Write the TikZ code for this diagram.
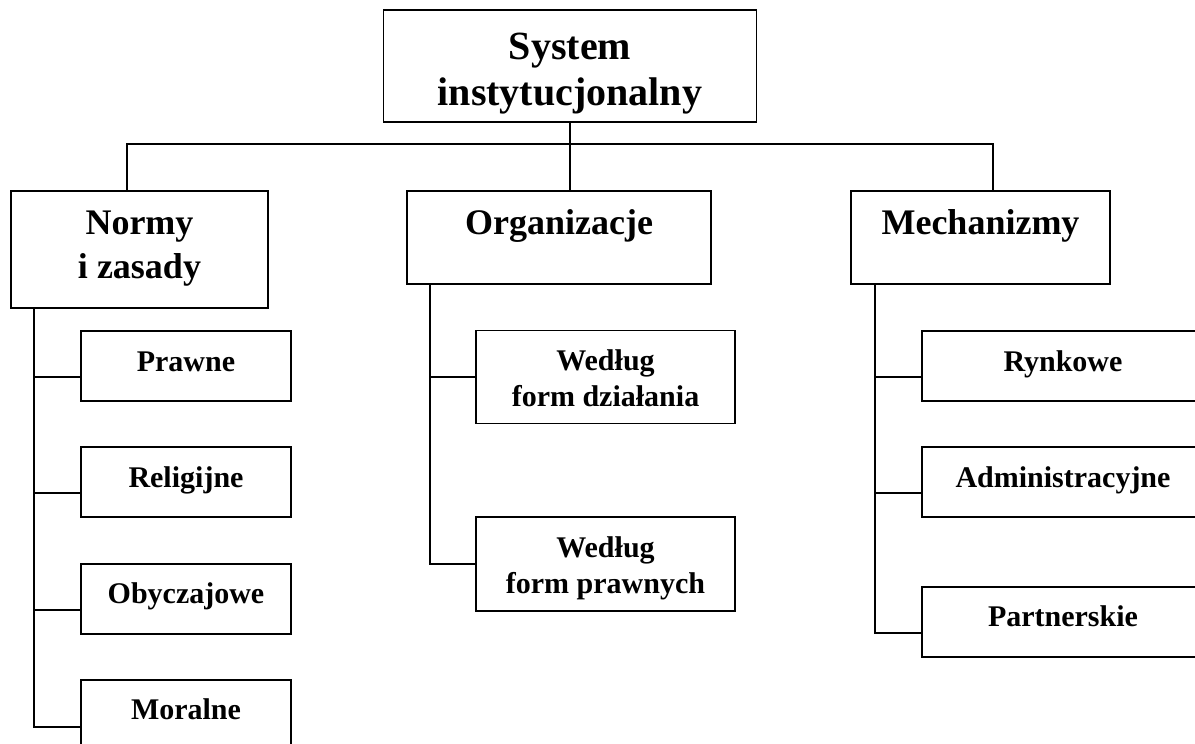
\documentclass[tikz,border=0pt]{standalone}
\usepackage{fontspec}
\setmainfont{Liberation Serif}
\begin{document}
\begin{tikzpicture}[x=1pt,y=-1pt,
  box/.style={draw,line width=1.6pt,rectangle,inner sep=0pt},
  conn/.style={line width=1.4pt},
  big/.style={anchor=base,inner sep=0pt,font=\bfseries\fontsize{40}{46}\selectfont},
  mid/.style={anchor=base,inner sep=0pt,font=\bfseries\fontsize{36}{44}\selectfont},
  small/.style={anchor=base,inner sep=0pt,font=\bfseries\fontsize{30}{36}\selectfont}]
\useasboundingbox (0,0) rectangle (1195,744);
\clip (0,0) rectangle (1195,744);
% top
\node[box,minimum width=373pt,minimum height=112pt] (top) at (570,66) {};
\node[big] (topa) at (570,59) {System};
\node[big] (topb) at (570,105) {instytucjonalny};
% level 2
\node[box,minimum width=257pt,minimum height=117pt] (normy) at (139.5,249.5) {};
\node[mid] (normya) at (139.5,234) {Normy};
\node[mid] (normyb) at (139.5,278) {i zasady};
\node[box,minimum width=304pt,minimum height=93pt] (org) at (559,237.5) {};
\node[mid] (orga) at (559,234) {Organizacje};
\node[box,minimum width=259pt,minimum height=93pt] (mech) at (980.5,237.5) {};
\node[mid] (mecha) at (980.5,234) {Mechanizmy};
% bus
\coordinate (busL) at (127,144);
\coordinate (busR) at (993,144);
\draw[conn] (top.south) -- (top.south |- busL);
\draw[conn] (normy.north -| busL) |- (busR) -- (mech.north -| busR);
\draw[conn] (top.south |- busL) -- (org.north -| top.south);
% left column
\node[box,minimum width=210pt,minimum height=70pt] (prawne) at (186,366) {};
\node[small] (prawnet) at (186,371) {Prawne};
\node[box,minimum width=210pt,minimum height=70pt] (relig) at (186,482) {};
\node[small] (religt) at (186,487) {Religijne};
\node[box,minimum width=210pt,minimum height=70pt] (obycz) at (186,599) {};
\node[small] (obyczt) at (186,603) {Obyczajowe};
\node[box,minimum width=210pt,minimum height=70pt] (moral) at (186,715) {};
\node[small] (moralt) at (186,719) {Moralne};
\coordinate (nstem) at (34,308);
\draw[conn] (nstem) |- ([yshift=-12pt]moral.west);
\draw[conn] ([yshift=-11pt]prawne.west) -- ([yshift=-11pt]prawne.west -| nstem);
\draw[conn] ([yshift=-11pt]relig.west) -- ([yshift=-11pt]relig.west -| nstem);
\draw[conn] ([yshift=-11pt]obycz.west) -- ([yshift=-11pt]obycz.west -| nstem);
% middle column
\node[box,minimum width=259pt,minimum height=93pt] (dzial) at (605.5,377) {};
\node[small] (dziala) at (605.5,370) {Według};
\node[small] (dzialb) at (605.5,406) {form działania};
\node[box,minimum width=259pt,minimum height=94pt] (praw) at (605.5,564) {};
\node[small] (prawa) at (605.5,557) {Według};
\node[small] (prawb) at (605.5,593) {form prawnych};
\coordinate (ostem) at (430,284);
\draw[conn] (ostem) |- (praw.west);
\draw[conn] (dzial.west) -- (dzial.west -| ostem);
% right column
\node[box,minimum width=282pt,minimum height=70pt] (rynk) at (1063,366) {};
\node[small] (rynkt) at (1063,371) {Rynkowe};
\node[box,minimum width=282pt,minimum height=70pt] (admin) at (1063,482) {};
\node[small] (admint) at (1063,487) {Administracyjne};
\node[box,minimum width=282pt,minimum height=70pt] (partn) at (1063,622) {};
\node[small] (partnt) at (1063,626) {Partnerskie};
\coordinate (mstem) at (875,284);
\draw[conn] (mstem) |- ([yshift=-11pt]partn.west);
\draw[conn] ([yshift=-11pt]rynk.west) -- ([yshift=-11pt]rynk.west -| mstem);
\draw[conn] ([yshift=-11pt]admin.west) -- ([yshift=-11pt]admin.west -| mstem);
\end{tikzpicture}
\end{document}
